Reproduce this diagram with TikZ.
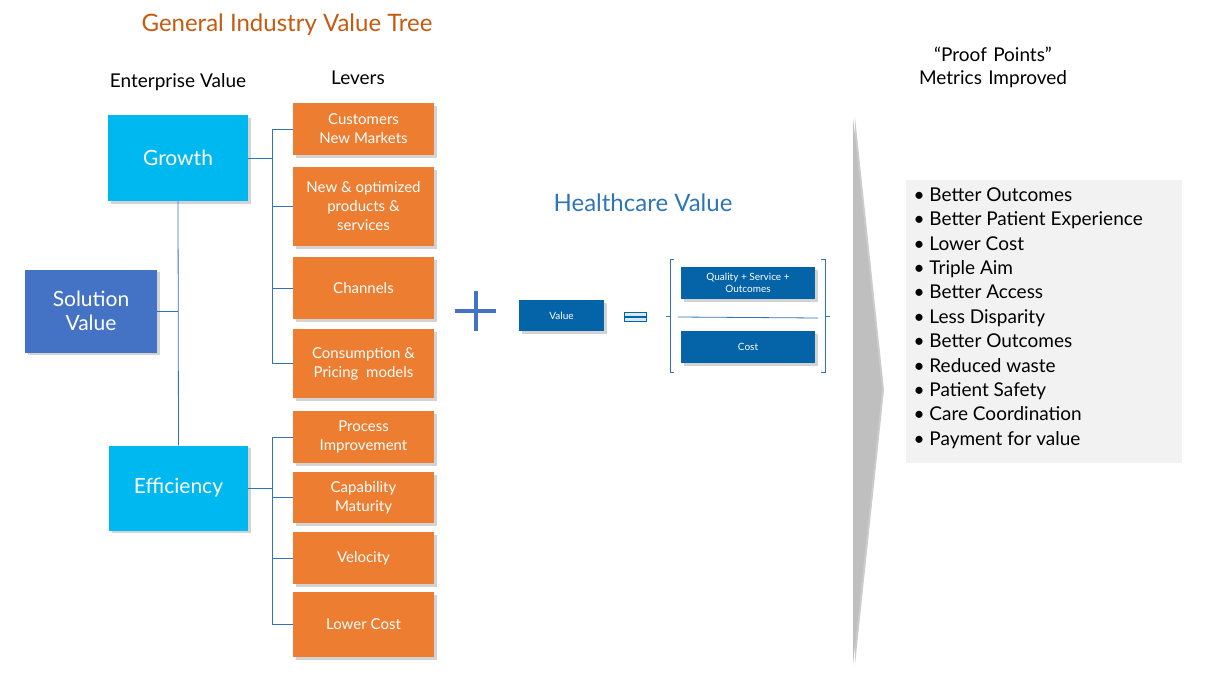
\documentclass[tikz,border=0pt]{standalone}
\usepackage{fontspec}
\setmainfont{Lato}
\usetikzlibrary{shadows}
\definecolor{cyanb}{HTML}{00B8F0}
\definecolor{blueb}{HTML}{4472C4}
\definecolor{orb}{HTML}{ED7D31}
\definecolor{titc}{HTML}{C55A11}
\definecolor{hcb}{HTML}{2E75B6}
\definecolor{dkb}{HTML}{0563A8}
\definecolor{lnc}{HTML}{2E75B6}
\tikzset{
 x=1pt,y=-1pt,
 bigbox/.style={fill=#1,text=white,font=\fontsize{21}{24}\selectfont,align=center,drop shadow={opacity=0.35}},
 lev/.style={fill=orb,text=white,font=\fontsize{15}{19}\selectfont,align=center,drop shadow={opacity=0.35}},
 fb/.style={fill=dkb,text=white,font=\fontsize{10}{12}\selectfont,align=center,drop shadow={opacity=0.35}},
 ln/.style={draw=lnc,line width=0.8pt},
 hd/.style={font=\fontsize{19}{23}\selectfont,align=center}
}
\newcommand{\bx}[5]{\node[#1,minimum width=#4-#2,minimum height=#5-#3,inner sep=0pt] (#1#2#3) at ({(#2+#4)/2},{(#3+#5)/2})}
\begin{document}
\begin{tikzpicture}
\useasboundingbox (0,0) rectangle (1208,682);
\node[font=\fontsize{24}{28}\selectfont,text=titc] (title) at (287,25) {General Industry Value Tree};
\node[hd] (ev) at (178,82) {Enterprise Value};
\node[hd] (lv) at (358,78) {Levers};
\node[hd,text width=250pt] (pp) at (993,67) {“Proof Points”\\Metrics Improved};
% big boxes
\node[bigbox=cyanb,minimum width=140pt,minimum height=86pt] (gr) at (178,158) {Growth};
\node[bigbox=blueb,minimum width=132pt,minimum height=83pt] (sv) at (91,311) {Solution\\Value};
\node[bigbox=cyanb,minimum width=139pt,minimum height=85pt] (ef) at (178.5,488) {Efficiency};
% levers
\foreach \n/\a/\b/\t in {l1/103/155/{Customers\\New Markets},l2/167/246/{New \& optimized\\products \&\\services},l3/257/319/{Channels},l4/329/398/{Consumption \&\\Pricing\ \ models},l5/411/463/{Process\\Improvement},l6/472/523/{Capability\\Maturity},l7/532/584/{Velocity},l8/592/657/{Lower Cost}}
 \node[lev,minimum width=141pt,minimum height=\b-\a,inner sep=0pt] (\n) at (363.5,{(\a+\b)/2}) {\t};
% tree connectors
\coordinate (gj) at (272,158);
\coordinate (ej) at (272,488);
\coordinate (sj) at (178,311);
\draw[ln] (gr.east) -- (gj);
\draw[ln] (ef.east) -- (ej);
\draw[ln] (sv.east) -- (sj);
\draw[ln] (gr.south) -- (ef.north);
\foreach \n in {l1,l2,l3,l4} \draw[ln] (\n.west) -- (\n.west -| gj);
\draw[ln] (l1.west -| gj) -- (l4.west -| gj);
\foreach \n in {l5,l6,l7,l8} \draw[ln] (\n.west) -- (\n.west -| ej);
\draw[ln] (l5.west -| ej) -- (l8.west -| ej);
% healthcare
\node[font=\fontsize{24}{28}\selectfont,text=hcb] (hv) at (643,203) {Healthcare Value};
\node[font=\fontsize{10}{12}\selectfont] (plus) at (475,311) {};
\draw[blueb,line width=4pt] (455,311) -- (496,311) (475.5,291) -- (475.5,331);
\node[fb,minimum width=85pt,minimum height=31pt] (val) at (561.5,315.5) {Value};
\node (eq) at (635,316.5) {};
\draw[draw=dkb,fill=white!85!dkb,line width=0.5pt] (624,312.5) rectangle (646,316) (624,317.5) rectangle (646,321);
\node[fb,minimum width=134pt,minimum height=32pt] (q) at (748,283) {Quality + Service +\\Outcomes};
\node[fb,minimum width=134pt,minimum height=32pt] (c) at (748,347) {Cost};
\draw[ln] (678,317) -- (818,318);
\draw[ln] (674,259) -- (670,259) -- (670,372) -- (674,372) (670,316) -- (666,316);
\draw[ln] (821,259) -- (825,259) -- (825,372) -- (821,372) (825,316) -- (830,316);
% big arrow
\fill[gray!50,drop shadow={shadow xshift=2pt,shadow yshift=0pt,opacity=0.4}] (853,117) -- (882,390) -- (853,665) -- cycle;
% list
\node[fill=black!5,minimum width=276pt,minimum height=283pt,inner sep=0pt] (lb) at (1044,321.5) {};
\node[anchor=north west,align=left,font=\fontsize{19}{24.4}\selectfont] (lt) at (910,184) {%
• Better Outcomes\\• Better Patient Experience\\• Lower Cost\\• Triple Aim\\• Better Access\\• Less Disparity\\• Better Outcomes\\• Reduced waste\\• Patient Safety\\• Care Coordination\\• Payment for value};
\end{tikzpicture}
\end{document}
